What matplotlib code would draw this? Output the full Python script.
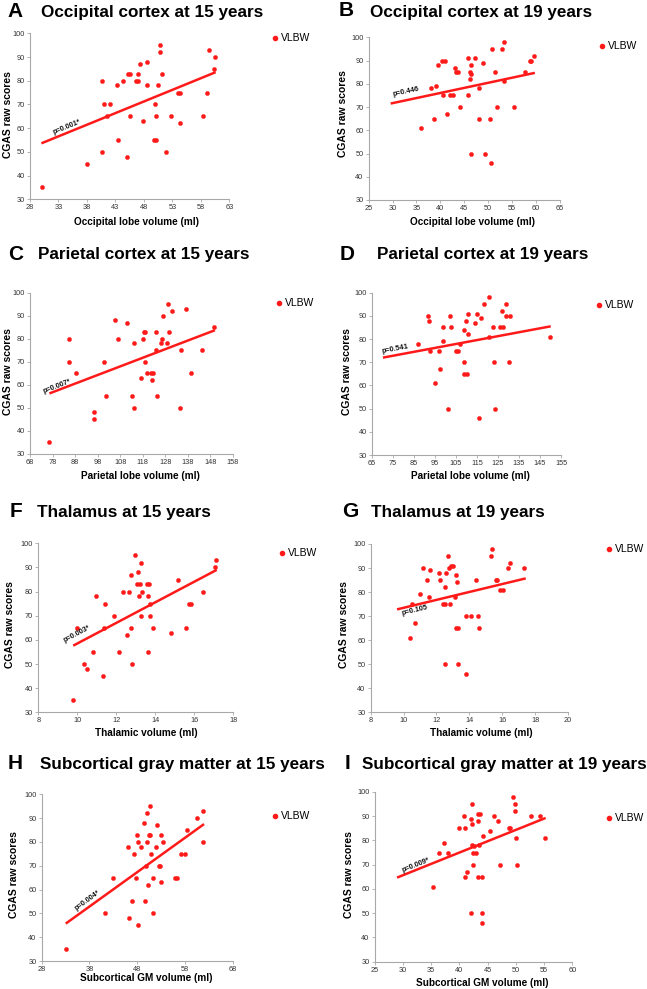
import matplotlib
matplotlib.use('Agg')
import matplotlib.pyplot as plt
import numpy as np

plt.rcParams['font.family'] = ['Liberation Sans', 'DejaVu Sans']

W, H = 647, 989

# ---- data ----
occ15_x = [30.05, 38.06, 40.6, 40.6, 41.0, 41.6, 42.0, 43.2, 43.5, 44.3, 45.0, 45.2, 45.5, 45.5,
           46.6, 46.9, 46.9, 47.4, 47.8, 48.5, 48.5, 49.7, 49.9, 50.2, 50.4, 50.2, 50.8, 50.8,
           51.1, 51.8, 52.8, 54.0, 54.3, 54.3, 58.3, 59.1, 59.4, 60.3, 60.5]
occ15_y = [35, 45, 80, 50, 70, 65, 70, 78, 55, 80, 48, 83, 83, 65,
           80, 83, 80, 87, 63, 88, 78, 55, 70, 65, 78, 55, 95, 92,
           83, 50, 65, 75, 75, 62, 65, 75, 93, 85, 90]
occ15_fit_x = [30.0, 60.6]
occ15_fit_y = [53.6, 83.6]

occ19_x = [35.9, 38.7, 38.0, 39.0, 39.5, 40.4, 41.0, 40.6, 41.3, 42.1, 42.6, 43.1, 43.3, 43.6,
           44.2, 45.9, 46.2, 46.4, 46.2, 46.4, 45.9, 46.4, 47.2, 48.0, 48.0, 48.9, 49.3, 50.5,
           50.7, 50.8, 51.5, 51.8, 52.9, 53.3, 53.3, 55.4, 57.8, 58.7, 59.0, 59.6]
occ19_y = [61, 65, 78, 79, 88, 90, 90, 75, 67, 75, 75, 87, 85, 85,
           70, 91, 85, 84, 82, 88, 75, 50, 91, 78, 65, 89, 50, 65,
           46, 95, 85, 70, 95, 98, 81, 70, 85, 90, 90, 92]
occ19_fit_x = [29.6, 59.8]
occ19_fit_y = [71.5, 84.7]

par15_x = [76.6, 85.4, 85.4, 88.5, 96.2, 96.2, 101.0, 101.5, 105.7, 107.2, 111.0, 113.2, 114.0,
           114.3, 117.0, 118.2, 118.4, 119.1, 119.0, 120.0, 121.8, 122.5, 122.2, 124.0, 124.0,
           124.2, 126.0, 126.5, 127.1, 128.6, 129.0, 129.8, 131.0, 134.4, 135.0, 137.3, 139.4,
           144.4, 149.7]
par15_y = [35, 80, 70, 65, 48, 45, 70, 55, 88, 80, 87, 55, 78,
           50, 63, 80, 83, 83, 70, 65, 65, 65, 62, 83, 75,
           55, 78, 80, 90, 78, 95, 83, 92, 50, 75, 93, 65,
           75, 85]
par15_fit_x = [76.6, 150.0]
par15_fit_y = [56.2, 83.7]

par19_x = [86.9, 91.7, 92.1, 92.6, 97.1, 97.2, 95.0, 98.8, 98.8, 101.2, 102.0, 102.5, 104.8,
           105.8, 106.7, 109.0, 109.8, 109.0, 108.7, 110.2, 110.5, 110.7, 114.2, 114.8, 116.0,
           116.9, 118.5, 120.6, 120.6, 122.6, 123.0, 123.7, 125.8, 127.1, 127.5, 128.8, 128.8,
           130.2, 130.6, 149.8]
par19_y = [78, 90, 88, 75, 75, 67, 61, 85, 79, 50, 90, 85, 75,
           75, 78, 84, 88, 70, 65, 65, 91, 82, 87, 91, 46,
           89, 95, 81, 98, 85, 70, 50, 85, 92, 85, 90, 95,
           70, 90, 81]
par19_fit_x = [70.2, 150.1]
par19_fit_y = [72.0, 85.5]

tha15_x = [9.79, 10.0, 10.34, 10.5, 10.8, 10.96, 11.33, 11.35, 11.4, 11.88, 12.15, 12.34, 12.55,
           12.63, 12.75, 12.75, 12.8, 12.94, 13.08, 13.13, 13.2, 13.15, 13.25, 13.25, 13.32,
           13.56, 13.6, 13.66, 13.64, 13.71, 13.73, 13.9, 14.82, 15.15, 15.57, 15.74, 15.83,
           16.43, 17.06, 17.13]
tha15_y = [35, 65, 50, 48, 55, 78, 45, 65, 75, 70, 55, 80, 62,
           80, 87, 65, 50, 95, 83, 88, 83, 78, 92, 70, 80,
           83, 78, 83, 55, 75, 70, 65, 63, 85, 65, 75, 75,
           80, 90, 93]
tha15_fit_x = [9.79, 17.15]
tha15_fit_y = [57.6, 89.0]

tha19_x = [10.37, 10.49, 10.72, 11.02, 11.18, 11.44, 11.54, 11.61, 12.16, 12.22, 12.42, 12.54,
           12.54, 12.58, 12.54, 12.72, 12.74, 12.84, 12.87, 12.99, 13.15, 13.17, 13.21, 13.25,
           13.29, 13.33, 13.78, 13.82, 14.08, 14.39, 14.53, 14.57, 15.3, 15.4, 15.62, 15.7,
           15.84, 16.05, 16.37, 16.45, 17.32]
tha19_y = [61, 75, 67, 79, 90, 85, 78, 89, 88, 85, 75, 75,
           82, 88, 50, 95, 90, 75, 91, 91, 78, 87, 65, 84,
           65, 50, 46, 70, 70, 85, 70, 65, 95, 98, 85, 85,
           81, 81, 90, 92, 90]
tha19_fit_x = [9.6, 17.43]
tha19_fit_y = [72.8, 85.7]

sub15_x = [33.03, 41.19, 42.87, 46.15, 46.29, 46.92, 47.27, 47.82, 48.03, 48.1, 48.17, 48.87,
           49.5, 49.64, 49.85, 49.99, 50.13, 50.2, 50.41, 50.62, 50.76, 50.83, 51.25, 51.32,
           51.95, 52.23, 52.51, 52.86, 52.93, 53.0, 53.48, 55.99, 56.27, 57.1, 58.08, 58.43,
           60.46, 61.86, 61.79]
sub15_y = [35, 50, 65, 78, 48, 55, 75, 65, 83, 80, 45, 78,
           88, 55, 70, 92, 80, 62, 83, 95, 83, 75, 65, 50,
           78, 87, 70, 70, 63, 83, 80, 65, 65, 75, 75, 85,
           90, 93, 80]
sub15_fit_x = [33.03, 62.0]
sub15_fit_y = [45.7, 87.5]

sub19_x = [35.39, 36.45, 37.28, 38.05, 39.94, 40.82, 41.0, 41.06, 41.41, 42.0, 42.06, 42.24,
           42.3, 42.3, 42.36, 42.47, 42.5, 43.0, 43.27, 43.33, 43.33, 43.56, 43.68, 44.09,
           44.15, 43.98, 44.09, 45.48, 46.13, 46.84, 47.14, 48.79, 48.97, 49.5, 49.79, 49.79,
           49.97, 50.15, 52.69, 54.28, 55.1]
sub19_y = [61, 75, 79, 75, 85, 90, 85, 65, 67, 89, 50, 95,
           87, 78, 75, 70, 77.7, 75, 91, 88, 65, 78, 91, 65,
           82, 50, 46, 84, 90, 88, 70, 85, 85, 98, 95, 92,
           81, 70, 90, 90, 81]
sub19_fit_x = [28.96, 55.28]
sub19_fit_y = [64.7, 89.3]

letters = ['A', 'B', 'C', 'D', 'F', 'G', 'H', 'I']
titles = ['Occipital cortex at 15 years', 'Occipital cortex at 19 years',
          'Parietal cortex at 15 years', 'Parietal cortex at 19 years',
          'Thalamus at 15 years', 'Thalamus at 19 years',
          'Subcortical gray matter at 15 years', 'Subcortical gray matter at 19 years']
xlabels = ['Occipital lobe volume (ml)', 'Occipital lobe volume (ml)',
           'Parietal lobe volume (ml)', 'Parietal lobe volume (ml)',
           'Thalamic volume (ml)', 'Thalamic volume (ml)',
           'Subcortical GM volume (ml)', 'Subcortical GM volume (ml)']
p_labels = ['p=0.001*', 'p=0.446', 'p=0.007*', 'p=0.541',
            'p=0.003*', 'p=0.105', 'p=0.004*', 'p=0.009*']
xticks = [np.arange(28, 64, 5), np.arange(25, 66, 5), np.arange(68, 159, 10), np.arange(65, 156, 10),
          np.arange(8, 19, 2), np.arange(8, 21, 2), np.arange(28, 69, 10), np.arange(25, 61, 5)]
yticks = np.arange(30, 101, 10)
series = [(occ15_x, occ15_y, occ15_fit_x, occ15_fit_y), (occ19_x, occ19_y, occ19_fit_x, occ19_fit_y),
          (par15_x, par15_y, par15_fit_x, par15_fit_y), (par19_x, par19_y, par19_fit_x, par19_fit_y),
          (tha15_x, tha15_y, tha15_fit_x, tha15_fit_y), (tha19_x, tha19_y, tha19_fit_x, tha19_fit_y),
          (sub15_x, sub15_y, sub15_fit_x, sub15_fit_y), (sub19_x, sub19_y, sub19_fit_x, sub19_fit_y)]

# ---- layout (pixels) ----
# axes box: left, top, right, bottom
boxes = [(30, 33.3, 229.3, 199.3), (368.7, 37.3, 559.7, 200),
         (30, 292.7, 233, 453.7), (372, 292.7, 561, 455),
         (38.3, 543.3, 233.3, 712.3), (370.7, 544, 568, 712.3),
         (41.7, 794.3, 232.7, 961), (374.7, 792, 572.3, 961.7)]
letter_pos = [(7, 17), (339, 16.5), (8, 259.5), (340, 259.5), (10, 517), (342, 517), (8, 769), (345, 769)]
title_pos = [(41, 17), (370, 16.5), (38, 259.5), (377, 259), (37, 517), (371, 517), (40, 769), (362, 769)]
legend_pos = [(275, 38), (602, 46), (279, 303), (599, 305), (282, 553), (609, 549), (275, 816), (609, 818)]
ylabel_pos = [(8, 115), (343, 114), (8, 372), (347, 372), (10, 625), (344, 625), (14, 875), (349, 875)]
xlabel_pos = [(137, 222), (472, 222), (140, 476), (470, 476), (146, 733), (481, 733), (146, 978), (482, 983)]
p_pos = [(34.4, 60.6, 22.3), (32.9, 76.6, 12), (79.8, 59.1, 20.9), (75.8, 75.7, 10.6),
         (10.0, 62.4, 27.8), (10.68, 72.3, 13.5), (37.56, 55.6, 35.8), (32.26, 69.7, 21.9)]

RED = '#ff1a1a'
GRID = '#a8a8a8'

fig = plt.figure(figsize=(W / 100, H / 100), dpi=100)


def fx(x):
    return x / W


def fy(y):
    return 1 - y / H


for i in range(8):
    l, t, r, b = boxes[i]
    ax = fig.add_axes([fx(l), fy(b), (r - l) / W, (b - t) / H])
    xs, ys, fit_x, fit_y = series[i]
    ax.plot(xs, ys, 'o', color=RED, ms=3.0, mec=RED, mew=0.3)
    ax.plot(fit_x, fit_y, '-', color=RED, lw=1.8, solid_capstyle='butt')
    ax.set_xlim(xticks[i][0], xticks[i][-1])
    ax.set_ylim(30, 100)
    ax.set_xticks(xticks[i])
    ax.set_yticks(yticks)
    for s in ['top', 'right']:
        ax.spines[s].set_visible(False)
    for s in ['left', 'bottom']:
        ax.spines[s].set_color(GRID)
        ax.spines[s].set_linewidth(0.8)
    ax.tick_params(length=2.2, width=0.6, color=GRID, labelsize=5.3, labelcolor='#333333', pad=1.5)
    px, py, rot = p_pos[i]
    ax.text(px, py, p_labels[i], fontsize=5.2, fontweight='bold', rotation=rot,
            rotation_mode='anchor', ha='center', va='center', color='#111111')

    fig.text(fx(letter_pos[i][0]), fy(letter_pos[i][1]), letters[i], fontsize=15, fontweight='bold',
             ha='left', va='baseline')
    fig.text(fx(title_pos[i][0]), fy(title_pos[i][1]), titles[i], fontsize=12.3, fontweight='bold',
             ha='left', va='baseline')
    lx, ly = legend_pos[i]
    fig.lines.append(plt.Line2D([fx(lx)], [fy(ly)], marker='o', color=RED, ms=3.0,
                                transform=fig.transFigure, linestyle='none'))
    fig.text(fx(lx + 6), fy(ly), 'VLBW', fontsize=7.5, ha='left', va='center')
    fig.text(fx(ylabel_pos[i][0]), fy(ylabel_pos[i][1]), 'CGAS raw scores', fontsize=7.5,
             fontweight='bold', rotation=90, ha='center', va='center')
    fig.text(fx(xlabel_pos[i][0]), fy(xlabel_pos[i][1]), xlabels[i], fontsize=7.2,
             fontweight='bold', ha='center', va='center')

fig.savefig('out.png', dpi=100)
